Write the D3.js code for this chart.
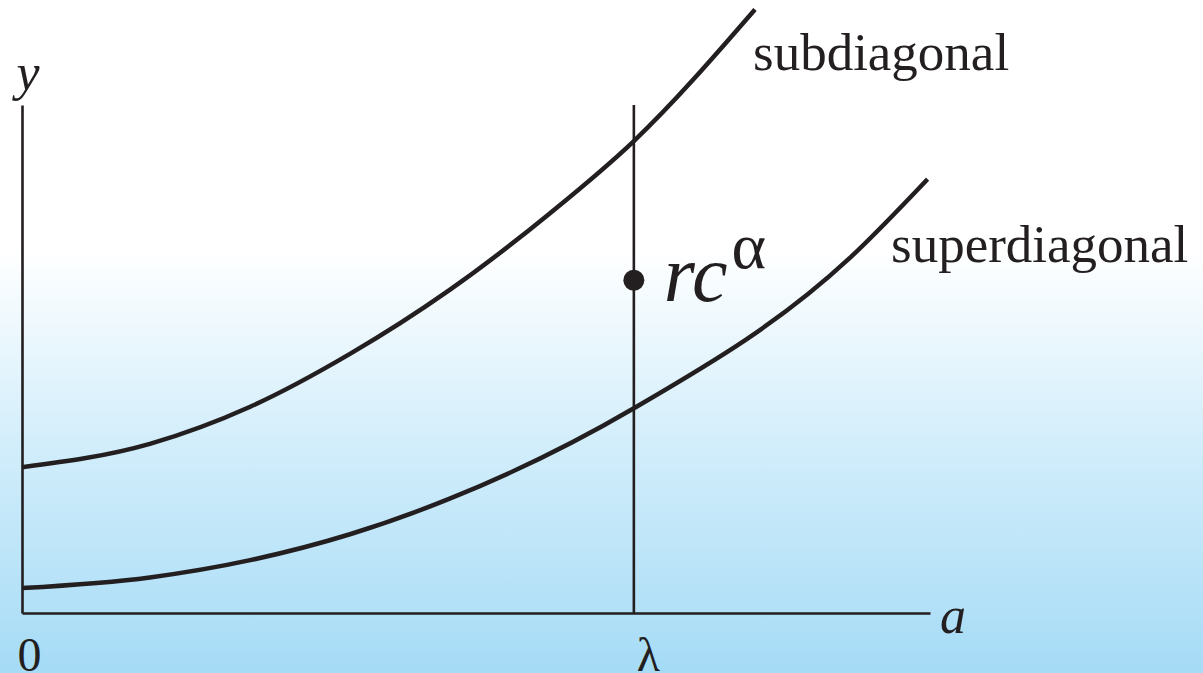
<!DOCTYPE html>
<html>
<head>
<meta charset="utf-8">
<script src="https://cdn.jsdelivr.net/npm/d3@7"></script>
<style>
  html, body { margin: 0; padding: 0; background: #fff; }
  svg { display: block; }
  text { font-family: "Liberation Serif", "DejaVu Serif", serif; fill: #231f20; }
</style>
</head>
<body>
<svg id="chart" width="1203" height="673"></svg>
<script>
// Age a on the horizontal axis, lambda marks the observation age
const lambda = 1.0;
const aMax = 1.484;
const yMax = 1.0;

// Subdiagonal curve (a, y)
const subA = [0, 0.209, 0.373, 0.536, 0.699, 0.863, 1.0, 1.198];
const subY = [0.287, 0.333, 0.406, 0.510, 0.636, 0.787, 0.929, 1.188];

// Superdiagonal curve (a, y)
const supA = [0, 0.209, 0.373, 0.536, 0.699, 1.0, 1.353, 1.480];
const supY = [0.049, 0.070, 0.104, 0.155, 0.225, 0.403, 0.699, 0.854];

// Observed point r c^alpha at age lambda
const pointY = 0.655;

// Axis tick labels
const tickVals = [0, lambda];
const tickLabels = ["0", "λ"];

const W = 1203, H = 673;
const margin = { left: 22, top: 105, right: 273, bottom: 60 };
const svg = d3.select("#chart");

// Background: white above, fading to light blue at the bottom
const defs = svg.append("defs");
const grad = defs.append("linearGradient")
  .attr("id", "bg")
  .attr("gradientUnits", "userSpaceOnUse")
  .attr("x1", 0).attr("y1", 250).attr("x2", 0).attr("y2", H);
grad.append("stop").attr("offset", 0).attr("stop-color", "#ffffff");
grad.append("stop").attr("offset", 0.45).attr("stop-color", "#d3eefb");
grad.append("stop").attr("offset", 1).attr("stop-color", "#a5dbf6");
svg.append("rect").attr("width", W).attr("height", H).attr("fill", "url(#bg)");

const x = d3.scaleLinear().domain([0, aMax]).range([margin.left, W - margin.right]);
const y = d3.scaleLinear().domain([0, yMax]).range([H - margin.bottom, margin.top]);

const ink = "#231f20";

// Horizontal axis with ticks at 0 and lambda
const xAxis = d3.axisBottom(x)
  .tickValues(tickVals)
  .tickFormat((d, i) => tickLabels[i])
  .tickSize(0).tickSizeOuter(0).tickPadding(24);
const gx = svg.append("g").attr("transform", `translate(0,${y(0)})`).call(xAxis);
gx.select(".domain").attr("stroke", ink).attr("stroke-width", 2.6);
gx.selectAll(".tick text")
  .attr("font-family", "Liberation Serif, serif")
  .attr("font-size", 48).attr("fill", ink)
  .attr("dx", (d, i) => i === 0 ? 7 : 14);

// Vertical axis, no ticks
const yAxis = d3.axisLeft(y).tickValues([]).tickSize(0).tickSizeOuter(0);
const gy = svg.append("g").attr("transform", `translate(${x(0)},0)`).call(yAxis);
gy.select(".domain").attr("stroke", ink).attr("stroke-width", 2.6);

// Axis titles
svg.append("text").attr("x", x(0) + 6).attr("y", 90)
  .attr("text-anchor", "middle").attr("font-style", "italic").attr("font-size", 52).text("y");
svg.append("text").attr("x", x(aMax) + 10).attr("y", y(0) + 20)
  .attr("font-style", "italic").attr("font-size", 52).text("a");

// Vertical line at lambda
svg.append("line")
  .attr("x1", x(lambda)).attr("x2", x(lambda))
  .attr("y1", y(yMax)).attr("y2", y(0))
  .attr("stroke", ink).attr("stroke-width", 2.6);

// Curves
const line = d3.line().x(d => x(d[0])).y(d => y(d[1])).curve(d3.curveMonotoneX);
const subData = subA.map((a, i) => [a, subY[i]]);
const supData = supA.map((a, i) => [a, supY[i]]);
svg.append("path").datum(subData).attr("d", line)
  .attr("fill", "none").attr("stroke", ink).attr("stroke-width", 4.5);
svg.append("path").datum(supData).attr("d", line)
  .attr("fill", "none").attr("stroke", ink).attr("stroke-width", 4.5);

// Curve labels
svg.append("text").attr("x", 753).attr("y", 70).attr("font-size", 53).text("subdiagonal");
svg.append("text").attr("x", 891).attr("y", 262).attr("font-size", 53).text("superdiagonal");

// Observed point and its label
svg.append("circle").attr("cx", x(lambda)).attr("cy", y(pointY)).attr("r", 10.5).attr("fill", ink);
const lab = svg.append("text").attr("x", x(lambda) + 30).attr("y", y(pointY) + 21);
lab.append("tspan").attr("font-style", "italic").attr("font-size", 80).text("rc");
lab.append("tspan").attr("font-size", 66).attr("dy", -33).attr("dx", 4).text("α");
</script>
</body>
</html>
